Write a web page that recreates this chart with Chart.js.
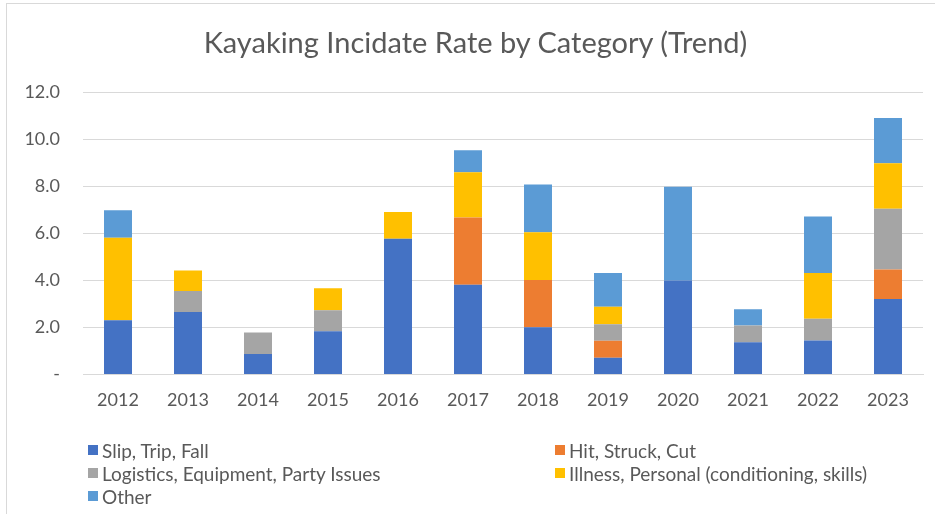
<!DOCTYPE html>
<html>
<head>
<meta charset="utf-8">
<script src="https://cdn.jsdelivr.net/npm/chart.js@4"></script>
<style>
  html, body { margin: 0; padding: 0; background: #fff; }
  #wrap { position: relative; width: 935px; height: 514px; overflow: hidden; font-family: Lato, "Open Sans", sans-serif; }
  #frame { position: absolute; left: 6px; top: 3px; width: 1000px; height: 600px; border: 1px solid #d9d9d9; box-sizing: border-box; }
  canvas { position: absolute; left: 0; top: 0; }
  #title { position: absolute; left: 0; top: 24px; width: 951px; text-align: center; color: #595959; font-size: 29px; line-height: 35px; white-space: nowrap; }
  #legend { position: absolute; left: 88px; top: 440px; width: 840px; display: grid; grid-template-columns: 467px 373px; row-gap: 3px; color: #595959; font-size: 19px; }
  .item { display: flex; align-items: center; height: 20px; }
  .box { width: 10px; height: 10px; margin-right: 4px; flex: none; }
</style>
</head>
<body>
<div id="wrap">
  <div id="frame"></div>
  <canvas id="grafico" width="935" height="514"></canvas>
  <div id="title">Kayaking Incidate Rate by Category (Trend)</div>
  <div id="legend"></div>
</div>
<script>
// Datos del gráfico
var years = ["2012", "2013", "2014", "2015", "2016", "2017", "2018", "2019", "2020", "2021", "2022", "2023"];
var slipTripFall = [2.3, 2.65, 0.87, 1.83, 5.76, 3.81, 2.0, 0.71, 3.99, 1.37, 1.44, 3.2];
var hitStruckCut = [0, 0, 0, 0, 0, 2.86, 2.01, 0.72, 0, 0, 0, 1.26];
var logistics = [0, 0.89, 0.91, 0.9, 0, 0, 0, 0.7, 0, 0.71, 0.93, 2.58];
var illness = [3.51, 0.88, 0, 0.93, 1.14, 1.92, 2.03, 0.74, 0, 0, 1.94, 1.93];
var other = [1.17, 0, 0, 0, 0, 0.94, 2.03, 1.44, 3.98, 0.69, 2.4, 1.93];

var seriesNames = ["Slip, Trip, Fall", "Hit, Struck, Cut", "Logistics, Equipment, Party Issues", "Illness, Personal (conditioning, skills)", "Other"];
var seriesColors = ["#4472C4", "#ED7D31", "#A5A5A5", "#FFC000", "#5B9BD5"];
var seriesValues = [slipTripFall, hitStruckCut, logistics, illness, other];

var textColor = "#595959";
var fontFamily = "Lato, 'Open Sans', sans-serif";

var datasets = seriesNames.map(function (name, i) {
  return {
    label: name,
    data: seriesValues[i],
    backgroundColor: seriesColors[i],
    borderWidth: 0,
    barPercentage: 0.4,
    categoryPercentage: 1.0,
  };
});

var ctx = document.getElementById("grafico").getContext("2d");
var grafico = new Chart(ctx, {
  type: "bar",
  data: { labels: years, datasets: datasets },
  options: {
    responsive: false,
    animation: false,
    // espacio para el título (arriba) y la leyenda (abajo)
    layout: { padding: { left: 0, right: 12, top: 92, bottom: 88 } },
    plugins: {
      legend: { display: false },
      tooltip: { enabled: false },
      title: { display: false },
    },
    scales: {
      x: {
        stacked: true,
        grid: { display: false, drawTicks: false },
        border: { display: true, color: "#d9d9d9", width: 1 },
        ticks: { color: textColor, font: { family: fontFamily, size: 18 }, padding: 15 },
      },
      y: {
        stacked: true,
        min: 0,
        max: 12,
        grid: { color: "#d9d9d9", drawTicks: false },
        border: { display: false },
        afterFit: function (scale) { scale.width = 83; },
        ticks: {
          stepSize: 2,
          color: textColor,
          font: { family: fontFamily, size: 18 },
          padding: 23,
          callback: function (v) { return v === 0 ? "-" : v.toFixed(1); },
        },
      },
    },
  },
});

// Leyenda en dos columnas
var legend = document.getElementById("legend");
seriesNames.forEach(function (name, i) {
  var item = document.createElement("div");
  item.className = "item";
  var box = document.createElement("span");
  box.className = "box";
  box.style.background = seriesColors[i];
  var txt = document.createElement("span");
  txt.textContent = name;
  item.appendChild(box);
  item.appendChild(txt);
  legend.appendChild(item);
});
</script>
</body>
</html>
